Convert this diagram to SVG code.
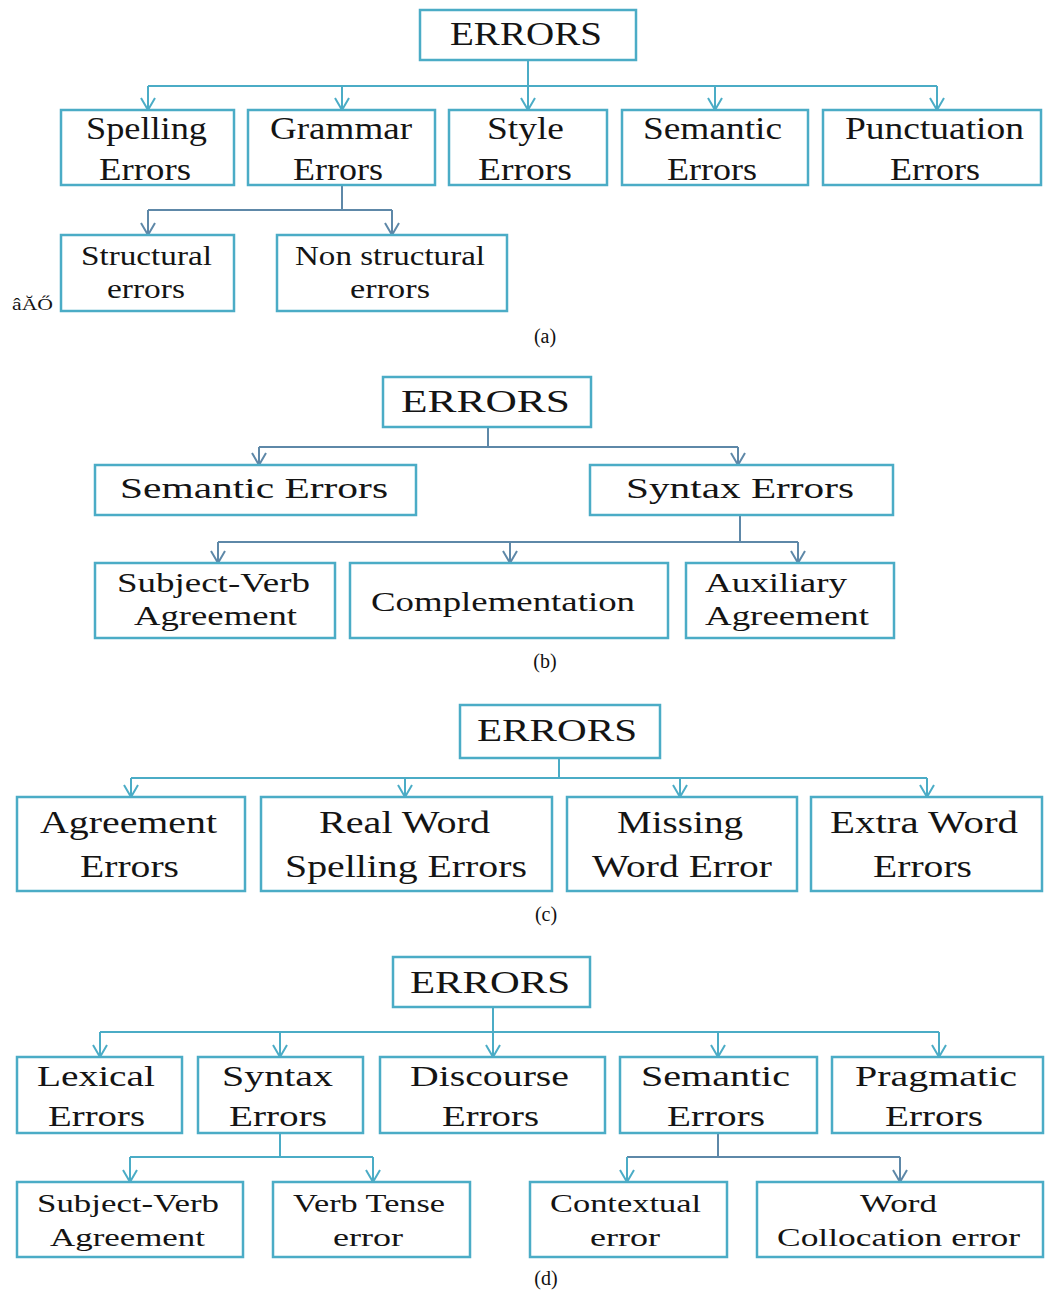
<svg xmlns="http://www.w3.org/2000/svg" width="1045" height="1293" viewBox="0 0 1045 1293">
<style>
.box{fill:#ffffff;stroke:#4bacc6;stroke-width:2.5}
.t{font-family:"Liberation Serif","Times New Roman",serif;fill:#141414}
.cap{font-family:"Liberation Serif","Times New Roman",serif;fill:#111;font-size:20px}
.c1{stroke:#4bacc6;stroke-width:2;fill:none}
.c2{stroke:#5e88a8;stroke-width:2;fill:none}
.a1{marker-end:url(#ah1)}
.a2{marker-end:url(#ah2)}
</style>
<defs>
<marker id="ah1" markerUnits="userSpaceOnUse" viewBox="0 0 14 16" markerWidth="14" markerHeight="16" refX="13" refY="8" orient="auto">
<path d="M1,1 L13,8 L1,15" fill="none" stroke="#4bacc6" stroke-width="2"/>
</marker>
<marker id="ah2" markerUnits="userSpaceOnUse" viewBox="0 0 14 16" markerWidth="14" markerHeight="16" refX="13" refY="8" orient="auto">
<path d="M1,1 L13,8 L1,15" fill="none" stroke="#5e88a8" stroke-width="2"/>
</marker>
</defs>
<rect width="1045" height="1293" fill="#ffffff"/>

<g id="connectors">
<!-- (a) -->
<path class="c1" d="M528,60 V86 M148,86 H937"/>
<path class="c1 a1" d="M148,86 V110"/>
<path class="c1 a1" d="M342,86 V110"/>
<path class="c1 a1" d="M528,86 V110"/>
<path class="c1 a1" d="M715,86 V110"/>
<path class="c1 a1" d="M937,86 V110"/>
<path class="c2" d="M342,185 V210 M148,210 H392"/>
<path class="c2 a2" d="M148,210 V235"/>
<path class="c2 a2" d="M392,210 V235"/>
<!-- (b) -->
<path class="c2" d="M488,427 V447 M259,447 H738"/>
<path class="c2 a2" d="M259,447 V465"/>
<path class="c2 a2" d="M738,447 V465"/>
<path class="c2" d="M740,515 V542 M218,542 H798"/>
<path class="c2 a2" d="M218,542 V563"/>
<path class="c2 a2" d="M510,542 V563"/>
<path class="c2 a2" d="M798,542 V563"/>
<!-- (c) -->
<path class="c1" d="M559,758 V778 M131,778 H927"/>
<path class="c1 a1" d="M131,778 V797"/>
<path class="c1 a1" d="M405,778 V797"/>
<path class="c1 a1" d="M680,778 V797"/>
<path class="c1 a1" d="M927,778 V797"/>
<!-- (d) -->
<path class="c1" d="M493,1007 V1032 M100,1032 H939"/>
<path class="c1 a1" d="M100,1032 V1057"/>
<path class="c1 a1" d="M280,1032 V1057"/>
<path class="c1 a1" d="M493,1032 V1057"/>
<path class="c1 a1" d="M718,1032 V1057"/>
<path class="c1 a1" d="M939,1032 V1057"/>
<path class="c1" d="M280,1133 V1157 M130,1157 H373"/>
<path class="c1 a1" d="M130,1157 V1182"/>
<path class="c1 a1" d="M373,1157 V1182"/>
<path class="c2" d="M718,1133 V1157 M627,1157 H900"/>
<path class="c1 a1" d="M627,1157 V1182"/>
<path class="c2 a2" d="M900,1157 V1182"/>
</g>

<!-- Panel (a) -->
<g id="a-errors"><rect class="box" x="420" y="10" width="216" height="50"/><text class="t" x="450" y="45" font-size="33" textLength="152" lengthAdjust="spacingAndGlyphs">ERRORS</text></g>
<g id="a-spelling"><rect class="box" x="61" y="110" width="173" height="75"/><text class="t" x="86" y="139" font-size="31" textLength="121" lengthAdjust="spacingAndGlyphs">Spelling</text><text class="t" x="99" y="180" font-size="31" textLength="92" lengthAdjust="spacingAndGlyphs">Errors</text></g>
<g id="a-grammar"><rect class="box" x="248" y="110" width="187" height="75"/><text class="t" x="270" y="139" font-size="31" textLength="142" lengthAdjust="spacingAndGlyphs">Grammar</text><text class="t" x="293" y="180" font-size="31" textLength="90" lengthAdjust="spacingAndGlyphs">Errors</text></g>
<g id="a-style"><rect class="box" x="449" y="110" width="158" height="75"/><text class="t" x="487" y="139" font-size="31" textLength="77" lengthAdjust="spacingAndGlyphs">Style</text><text class="t" x="478" y="180" font-size="31" textLength="94" lengthAdjust="spacingAndGlyphs">Errors</text></g>
<g id="a-semantic"><rect class="box" x="622" y="110" width="186" height="75"/><text class="t" x="643" y="139" font-size="31" textLength="139" lengthAdjust="spacingAndGlyphs">Semantic</text><text class="t" x="667" y="180" font-size="31" textLength="90" lengthAdjust="spacingAndGlyphs">Errors</text></g>
<g id="a-punctuation"><rect class="box" x="823" y="110" width="218" height="75"/><text class="t" x="845" y="139" font-size="31" textLength="179" lengthAdjust="spacingAndGlyphs">Punctuation</text><text class="t" x="890" y="180" font-size="31" textLength="90" lengthAdjust="spacingAndGlyphs">Errors</text></g>
<g id="a-structural"><rect class="box" x="61" y="235" width="173" height="76"/><text class="t" x="81" y="265" font-size="27" textLength="131" lengthAdjust="spacingAndGlyphs">Structural</text><text class="t" x="107" y="298" font-size="27" textLength="78" lengthAdjust="spacingAndGlyphs">errors</text></g>
<g id="a-nonstructural"><rect class="box" x="277" y="235" width="230" height="76"/><text class="t" x="295" y="265" font-size="27" textLength="190" lengthAdjust="spacingAndGlyphs">Non structural</text><text class="t" x="350" y="298" font-size="27" textLength="80" lengthAdjust="spacingAndGlyphs">errors</text></g>
<text class="t" x="12" y="310" font-size="17" textLength="41" lengthAdjust="spacingAndGlyphs">âĂŐ</text>
<text class="cap" x="545" y="343" text-anchor="middle">(a)</text>

<!-- Panel (b) -->
<g id="b-errors"><rect class="box" x="383" y="377" width="208" height="50"/><text class="t" x="401" y="412" font-size="31" textLength="169" lengthAdjust="spacingAndGlyphs">ERRORS</text></g>
<g id="b-semantic"><rect class="box" x="95" y="465" width="321" height="50"/><text class="t" x="120" y="498" font-size="30" textLength="268" lengthAdjust="spacingAndGlyphs">Semantic Errors</text></g>
<g id="b-syntax"><rect class="box" x="590" y="465" width="303" height="50"/><text class="t" x="626" y="498" font-size="30" textLength="228" lengthAdjust="spacingAndGlyphs">Syntax Errors</text></g>
<g id="b-subjectverb"><rect class="box" x="95" y="563" width="240" height="75"/><text class="t" x="117" y="592" font-size="28" textLength="193" lengthAdjust="spacingAndGlyphs">Subject-Verb</text><text class="t" x="134" y="625" font-size="28" textLength="163" lengthAdjust="spacingAndGlyphs">Agreement</text></g>
<g id="b-complementation"><rect class="box" x="350" y="563" width="318" height="75"/><text class="t" x="371" y="611" font-size="28" textLength="264" lengthAdjust="spacingAndGlyphs">Complementation</text></g>
<g id="b-auxiliary"><rect class="box" x="686" y="563" width="208" height="75"/><text class="t" x="705" y="592" font-size="28" textLength="142" lengthAdjust="spacingAndGlyphs">Auxiliary</text><text class="t" x="705" y="625" font-size="28" textLength="164" lengthAdjust="spacingAndGlyphs">Agreement</text></g>
<text class="cap" x="545" y="668" text-anchor="middle">(b)</text>

<!-- Panel (c) -->
<g id="c-errors"><rect class="box" x="460" y="705" width="200" height="53"/><text class="t" x="477" y="741" font-size="32" textLength="160" lengthAdjust="spacingAndGlyphs">ERRORS</text></g>
<g id="c-agreement"><rect class="box" x="17" y="797" width="228" height="94"/><text class="t" x="40" y="833" font-size="31" textLength="177" lengthAdjust="spacingAndGlyphs">Agreement</text><text class="t" x="80" y="877" font-size="31" textLength="99" lengthAdjust="spacingAndGlyphs">Errors</text></g>
<g id="c-realword"><rect class="box" x="261" y="797" width="291" height="94"/><text class="t" x="319" y="833" font-size="31" textLength="171" lengthAdjust="spacingAndGlyphs">Real Word</text><text class="t" x="285" y="877" font-size="31" textLength="242" lengthAdjust="spacingAndGlyphs">Spelling Errors</text></g>
<g id="c-missing"><rect class="box" x="567" y="797" width="230" height="94"/><text class="t" x="617" y="833" font-size="31" textLength="126" lengthAdjust="spacingAndGlyphs">Missing</text><text class="t" x="592" y="877" font-size="31" textLength="180" lengthAdjust="spacingAndGlyphs">Word Error</text></g>
<g id="c-extra"><rect class="box" x="811" y="797" width="231" height="94"/><text class="t" x="830" y="833" font-size="31" textLength="188" lengthAdjust="spacingAndGlyphs">Extra Word</text><text class="t" x="873" y="877" font-size="31" textLength="99" lengthAdjust="spacingAndGlyphs">Errors</text></g>
<text class="cap" x="546" y="921" text-anchor="middle">(c)</text>

<!-- Panel (d) -->
<g id="d-errors"><rect class="box" x="393" y="957" width="197" height="50"/><text class="t" x="410" y="993" font-size="32" textLength="160" lengthAdjust="spacingAndGlyphs">ERRORS</text></g>
<g id="d-lexical"><rect class="box" x="17" y="1057" width="165" height="76"/><text class="t" x="37" y="1086" font-size="30" textLength="118" lengthAdjust="spacingAndGlyphs">Lexical</text><text class="t" x="48" y="1126" font-size="30" textLength="97" lengthAdjust="spacingAndGlyphs">Errors</text></g>
<g id="d-syntax"><rect class="box" x="198" y="1057" width="165" height="76"/><text class="t" x="222" y="1086" font-size="30" textLength="111" lengthAdjust="spacingAndGlyphs">Syntax</text><text class="t" x="229" y="1126" font-size="30" textLength="98" lengthAdjust="spacingAndGlyphs">Errors</text></g>
<g id="d-discourse"><rect class="box" x="380" y="1057" width="225" height="76"/><text class="t" x="410" y="1086" font-size="30" textLength="159" lengthAdjust="spacingAndGlyphs">Discourse</text><text class="t" x="442" y="1126" font-size="30" textLength="97" lengthAdjust="spacingAndGlyphs">Errors</text></g>
<g id="d-semantic"><rect class="box" x="620" y="1057" width="197" height="76"/><text class="t" x="641" y="1086" font-size="30" textLength="149" lengthAdjust="spacingAndGlyphs">Semantic</text><text class="t" x="667" y="1126" font-size="30" textLength="98" lengthAdjust="spacingAndGlyphs">Errors</text></g>
<g id="d-pragmatic"><rect class="box" x="832" y="1057" width="211" height="76"/><text class="t" x="855" y="1086" font-size="30" textLength="162" lengthAdjust="spacingAndGlyphs">Pragmatic</text><text class="t" x="885" y="1126" font-size="30" textLength="98" lengthAdjust="spacingAndGlyphs">Errors</text></g>
<g id="d-subjectverb"><rect class="box" x="17" y="1182" width="226" height="75"/><text class="t" x="37" y="1212" font-size="26" textLength="182" lengthAdjust="spacingAndGlyphs">Subject-Verb</text><text class="t" x="50" y="1246" font-size="26" textLength="155" lengthAdjust="spacingAndGlyphs">Agreement</text></g>
<g id="d-verbtense"><rect class="box" x="273" y="1182" width="197" height="75"/><text class="t" x="293" y="1212" font-size="26" textLength="152" lengthAdjust="spacingAndGlyphs">Verb Tense</text><text class="t" x="333" y="1246" font-size="26" textLength="70" lengthAdjust="spacingAndGlyphs">error</text></g>
<g id="d-contextual"><rect class="box" x="530" y="1182" width="197" height="75"/><text class="t" x="550" y="1212" font-size="26" textLength="151" lengthAdjust="spacingAndGlyphs">Contextual</text><text class="t" x="590" y="1246" font-size="26" textLength="70" lengthAdjust="spacingAndGlyphs">error</text></g>
<g id="d-collocation"><rect class="box" x="757" y="1182" width="286" height="75"/><text class="t" x="860" y="1212" font-size="26" textLength="77" lengthAdjust="spacingAndGlyphs">Word</text><text class="t" x="777" y="1246" font-size="26" textLength="243" lengthAdjust="spacingAndGlyphs">Collocation error</text></g>
<text class="cap" x="546" y="1285" text-anchor="middle">(d)</text>
</svg>
